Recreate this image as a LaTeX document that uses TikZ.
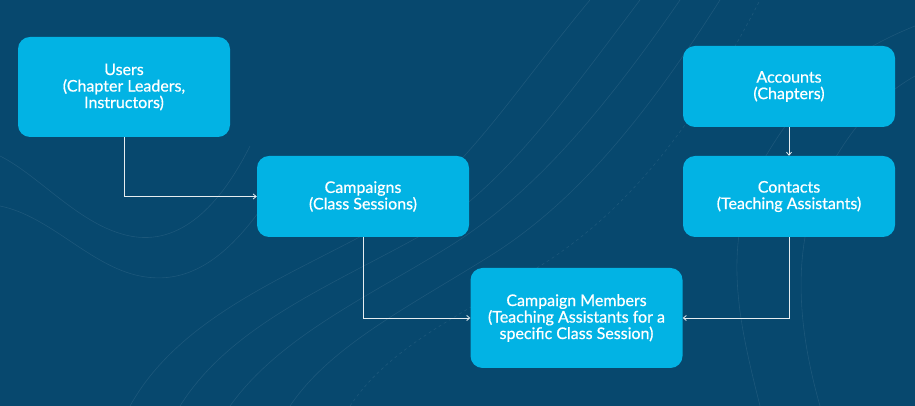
\documentclass[tikz,border=0pt]{standalone}
\usepackage{fontspec}
\setmainfont{Lato}
\newfontfamily\boxfont{Lato}[FakeBold=0.7]
\usetikzlibrary{arrows.meta}
\definecolor{bg}{HTML}{07486E}
\definecolor{boxc}{HTML}{02B3E4}
\definecolor{topo}{HTML}{2A6283}
\begin{document}
\begin{tikzpicture}[x=1pt,y=1pt,
  box/.style={fill=boxc, rounded corners=12pt, text=white, align=center,
    font=\boxfont\fontsize{16}{16.5}\selectfont, minimum width=212pt, inner sep=0pt},
  conn/.style={draw=white!90!bg, line width=0.8pt, -{Straight Barb[length=3pt,width=5pt]}},
  contour/.style={draw=topo, line width=0.6pt, opacity=0.6}]
\fill[bg] (0,0) rectangle (915,406);
\useasboundingbox (0,0) rectangle (915,406);
% faint topographic background lines
\draw[contour] (180,0) .. controls (230,80) and (330,120) .. (420,170) .. controls (500,215) and (560,300) .. (640,406);
\draw[contour] (230,0) .. controls (280,70) and (370,110) .. (450,160) .. controls (530,210) and (600,290) .. (680,406);
\draw[contour] (290,0) .. controls (330,60) and (410,100) .. (490,150) .. controls (570,200) and (640,280) .. (720,406);
\draw[contour] (130,0) .. controls (180,90) and (290,130) .. (380,180) .. controls (460,225) and (510,310) .. (590,406);
\draw[contour, dashed] (350,0) .. controls (390,60) and (460,90) .. (540,140) .. controls (620,190) and (690,270) .. (760,406);
\draw[contour] (760,0) .. controls (740,80) and (720,160) .. (760,240) .. controls (800,310) and (840,350) .. (915,380);
\draw[contour] (820,0) .. controls (800,70) and (790,150) .. (820,220) .. controls (850,280) and (880,310) .. (915,330);
\draw[contour] (0,250) .. controls (40,230) and (80,180) .. (130,170) .. controls (180,160) and (220,200) .. (250,260);
\draw[contour] (0,200) .. controls (50,190) and (90,140) .. (140,130) .. controls (190,120) and (230,150) .. (270,210);
% boxes
\node[box, minimum height=100pt] (users) at (124,319) {Users\\(Chapter Leaders,\\Instructors)};
\node[box, minimum height=81pt] (camp) at (363,209.5) {Campaigns\\(Class Sessions)};
\node[box, minimum height=100pt] (cm) at (576.5,88) {Campaign Members\\(Teaching Assistants for a\\specific Class Session)};
\node[box, minimum height=81pt] (acc) at (789,319.5) {Accounts\\(Chapters)};
\node[box, minimum height=81pt] (cont) at (789,209.5) {Contacts\\(Teaching Assistants)};
% connectors
\draw[conn] (users.south) |- (camp.west);
\draw[conn] (camp.south) |- (cm.west);
\draw[conn] (acc.south) -- (cont.north);
\draw[conn] (cont.south) |- (cm.east);
\end{tikzpicture}
\end{document}
